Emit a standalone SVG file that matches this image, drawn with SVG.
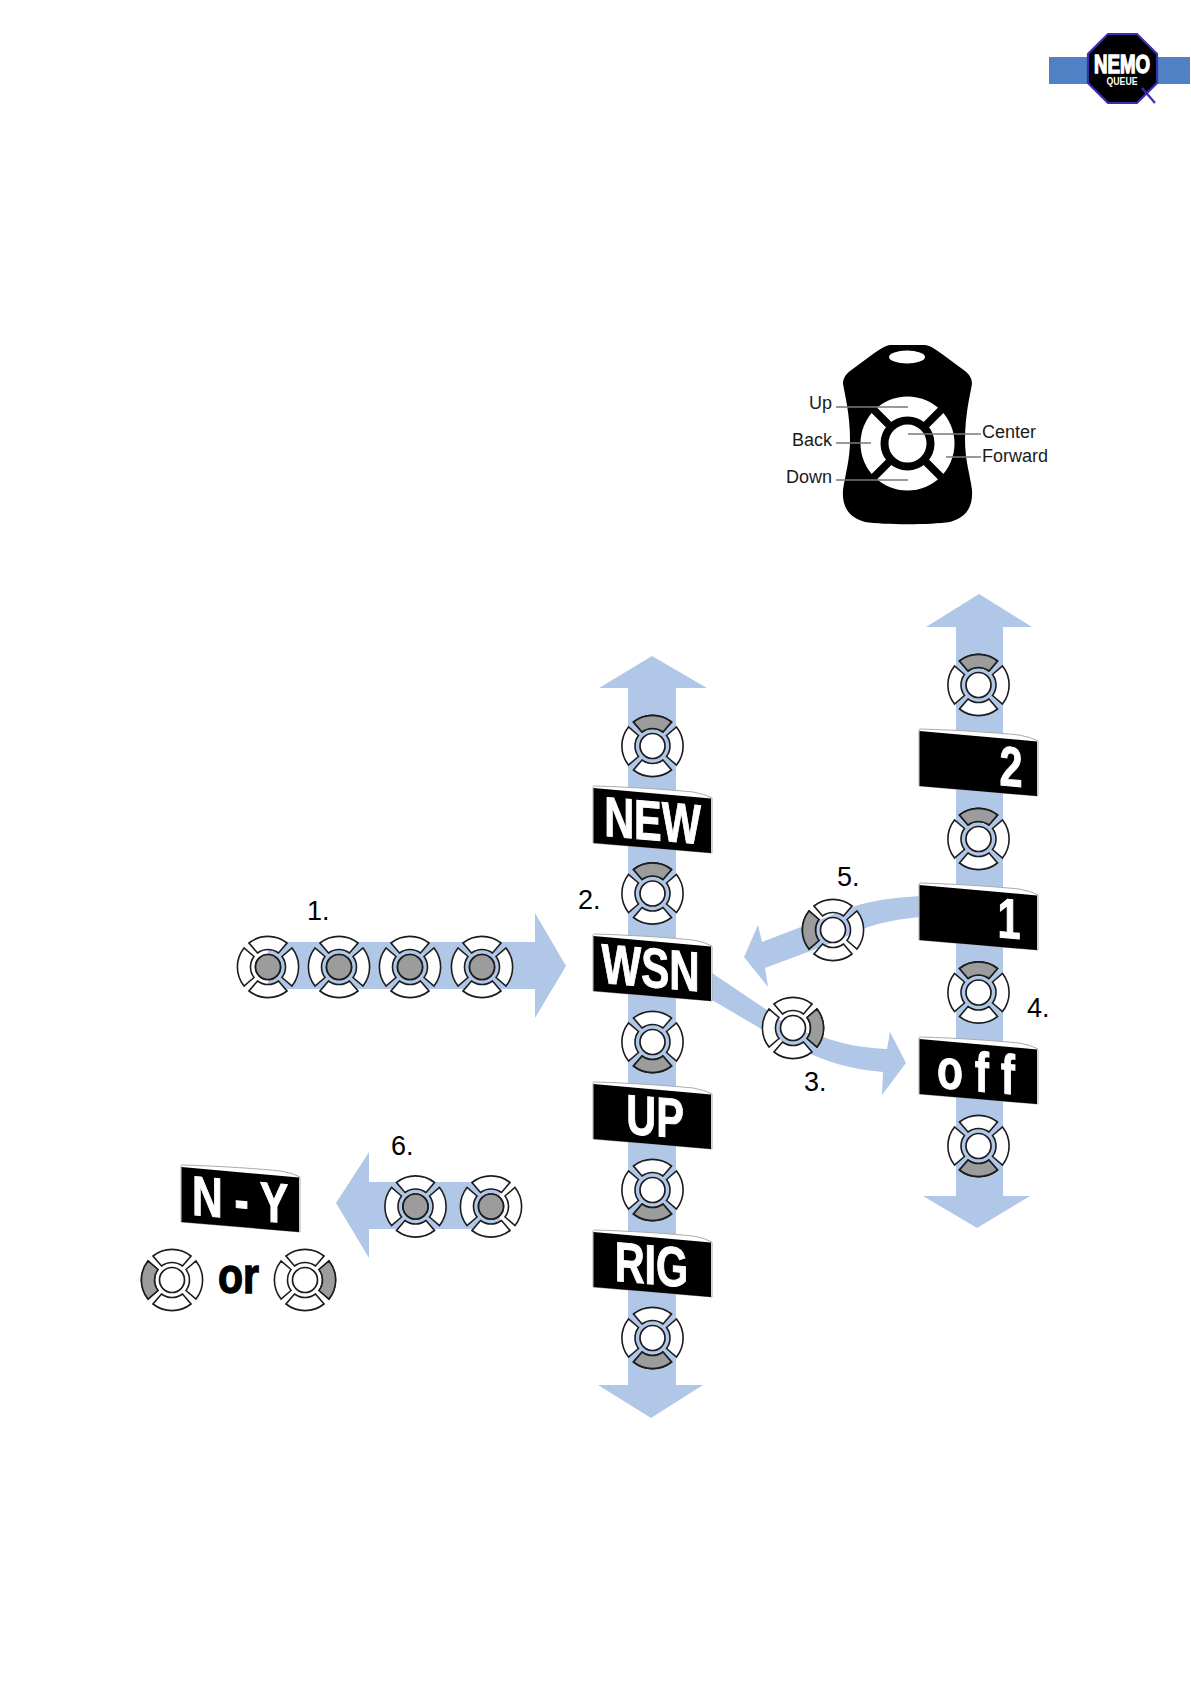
<svg xmlns="http://www.w3.org/2000/svg" width="1191" height="1684" viewBox="0 0 1191 1684">
<style>
.band{fill:#b1c7e8}
.seg{fill:#fff;stroke:#1c1c1c;stroke-width:1.6}
.gseg{fill:#9c9c9c;stroke:#1c1c1c;stroke-width:1.6}
.num{font-family:"Liberation Sans",Arial,sans-serif;font-size:27px;fill:#000}
.rl{font-family:"Liberation Sans",Arial,sans-serif;font-size:18px;fill:#1a1a1a}
.lead{stroke:#7a7a7a;stroke-width:1.4;fill:none}
.pl{font-family:"Liberation Sans",Arial,sans-serif;font-weight:700;font-size:56px;fill:#fff;stroke:#fff;stroke-width:1;text-anchor:middle}
</style>
<defs>
<path id="s" d="M-19,-24 A30.6,30.6 0 0 1 19,-24 L10.5,-14 A17.5,17.5 0 0 0 -10.5,-14 Z"/>
<g id="btn">
<use href="#s" class="seg"/>
<use href="#s" class="seg" transform="rotate(90)"/>
<use href="#s" class="seg" transform="rotate(180)"/>
<use href="#s" class="seg" transform="rotate(270)"/>
<circle r="12.5" fill="#fff" stroke="#1c1c1c" stroke-width="1.7"/>
</g>
<circle id="cg" r="12.5" fill="#9c9c9c" stroke="#1c1c1c" stroke-width="1.7"/>
<g id="plate">
<path d="M0,2 C0,1 0,0 1,0 C40,1 80,4 100,6 Q112,8 119,12 L119,67 L0,57 Z" fill="#fff" stroke="#aaa" stroke-width="1"/>
<path d="M0.5,2 L118,12.5 L118,67 L0.5,57 Z" fill="#000"/>
</g>
</defs>

<g id="logo">
<rect x="1049" y="57" width="141" height="27" fill="#4f81c4"/>
<polygon points="1108,34 1137,34 1157,54 1157,83 1137,103 1108,103 1088,83 1088,54" fill="#000" stroke="#3a2fa8" stroke-width="2.2"/>
<line x1="1142" y1="88" x2="1155" y2="103" stroke="#3a2fa8" stroke-width="2.2"/>
<text x="1122" y="73" text-anchor="middle" textLength="56" lengthAdjust="spacingAndGlyphs" font-family="'Liberation Sans',Arial,sans-serif" font-weight="700" font-size="25" fill="#fff" stroke="#fff" stroke-width="1.4">NEMO</text>
<text x="1122" y="85" text-anchor="middle" textLength="31" lengthAdjust="spacingAndGlyphs" font-family="'Liberation Sans',Arial,sans-serif" font-weight="700" font-size="10" fill="#fff">QUEUE</text>
</g>

<g id="remote">
<path d="M890,345 L925,345 C932,346 936,350 942,354 L965,371 C970,375 972,379 972,384 C970,395 965,415 965,440 C965,460 970,475 972,490 C973,505 968,517 950,522 C930,525 885,525 865,522 C847,517 842,505 843,490 C845,475 850,460 850,440 C850,415 845,395 843,384 C843,379 845,375 850,371 L873,354 C879,350 884,346 890,345 Z" fill="#000"/>
<ellipse cx="907" cy="357" rx="18" ry="6.5" fill="#fff"/>
<circle cx="907.5" cy="443.5" r="47" fill="#fff"/>
<path d="M874,410 L941,477 M941,410 L874,477" stroke="#000" stroke-width="7.5"/>
<circle cx="907.5" cy="443.5" r="23" fill="#fff" stroke="#000" stroke-width="8"/>
<path class="lead" d="M836,407 H908 M836,443 H871 M836,480 H908 M908,434 H981 M946,457 H981"/>
<text class="rl" x="832" y="409" text-anchor="end">Up</text>
<text class="rl" x="832" y="446" text-anchor="end">Back</text>
<text class="rl" x="832" y="483" text-anchor="end">Down</text>
<text class="rl" x="982" y="438">Center</text>
<text class="rl" x="982" y="462">Forward</text>
</g>

<g id="connectors">
<polygon class="band" points="268,942 535,942 535,913 566,966 535,1018 535,989 268,989"/>
<polygon class="band" points="628,688 599,688 652,656 707,688 676,688 676,1385 703,1385 651,1418 598,1385 628,1385"/>
<polygon class="band" points="956,627 926,627 979,594 1032,627 1003,627 1003,1196 1030,1196 977,1228 923,1196 956,1196"/>
<path class="band" d="M920,896 C885,898 862,903 850,908 L762,942 L758,925 L744,957 L768,987 L765,968 L840,940 C865,925 890,920 920,917 Z"/>
<path class="band" d="M712,973 L767,1010 C785,1025 800,1032 823,1037 C845,1045 865,1048 887,1049 L890,1032 L906,1063 L882,1095 L883,1072 C860,1070 835,1065 813,1055 C795,1050 780,1040 763,1030 L712,1000 Z"/>
<polygon class="band" points="500,1182 369,1182 369,1152 336,1203 369,1258 369,1229 500,1229"/>
</g>

<g id="n1-press"><use href="#btn" x="268" y="967"/><use href="#cg" x="268" y="967"/><use href="#btn" x="339" y="967"/><use href="#cg" x="339" y="967"/><use href="#btn" x="410" y="967"/><use href="#cg" x="410" y="967"/><use href="#btn" x="482" y="967"/><use href="#cg" x="482" y="967"/></g>

<g id="b-col1-up1" transform="translate(652.5,746)"><use href="#btn"/><use href="#s" class="gseg"/></g>
<g id="b-col1-up2" transform="translate(652.5,893.5)"><use href="#btn"/><use href="#s" class="gseg"/></g>
<g id="b-col1-dn1" transform="translate(652.5,1042)"><use href="#btn"/><use href="#s" class="gseg" transform="rotate(180)"/></g>
<g id="b-col1-dn2" transform="translate(652.5,1190)"><use href="#btn"/><use href="#s" class="gseg" transform="rotate(180)"/></g>
<g id="b-col1-dn3" transform="translate(652.5,1338)"><use href="#btn"/><use href="#s" class="gseg" transform="rotate(180)"/></g>

<g id="b-col2-up1" transform="translate(978.5,685)"><use href="#btn"/><use href="#s" class="gseg"/></g>
<g id="b-col2-up2" transform="translate(978.5,839)"><use href="#btn"/><use href="#s" class="gseg"/></g>
<g id="b-col2-up3" transform="translate(978.5,992.5)"><use href="#btn"/><use href="#s" class="gseg"/></g>
<g id="b-col2-dn1" transform="translate(978.5,1146)"><use href="#btn"/><use href="#s" class="gseg" transform="rotate(180)"/></g>

<g id="b-back" transform="translate(833,930)"><use href="#btn"/><use href="#s" class="gseg" transform="rotate(270)"/></g>
<g id="b-fwd" transform="translate(793,1028)"><use href="#btn"/><use href="#s" class="gseg" transform="rotate(90)"/></g>

<g id="n6-press"><use href="#btn" x="415.5" y="1206.5"/><use href="#cg" x="415.5" y="1206.5"/><use href="#btn" x="491" y="1206.5"/><use href="#cg" x="491" y="1206.5"/></g>
<g id="b-or-l" transform="translate(172,1280)"><use href="#btn"/><use href="#s" class="gseg" transform="rotate(270)"/></g>
<g id="b-or-r" transform="translate(305,1280)"><use href="#btn"/><use href="#s" class="gseg" transform="rotate(90)"/></g>

<g id="p-new" transform="translate(593,786)"><use href="#plate"/><text class="pl" transform="translate(59.5,54) skewY(5) scale(.74,1)">NEW</text></g>
<g id="p-wsn" transform="translate(593,934)"><use href="#plate"/><text class="pl" transform="translate(57.5,53) skewY(5) scale(.75,1)">WSN</text></g>
<g id="p-up" transform="translate(593,1082)"><use href="#plate"/><text class="pl" transform="translate(62,54) skewY(5) scale(.74,1)">UP</text></g>
<g id="p-rig" transform="translate(593,1230)"><use href="#plate"/><text class="pl" transform="translate(58.5,54) skewY(5) scale(.74,1)">RIG</text></g>
<g id="p-2" transform="translate(919,729)"><use href="#plate"/><text class="pl" transform="translate(92,57) skewY(5) scale(.74,1)">2</text></g>
<g id="p-1" transform="translate(919,883)"><use href="#plate"/><text class="pl" transform="translate(90,55) skewY(5) scale(.74,1)">1</text></g>
<g id="p-off" transform="translate(919,1037)"><use href="#plate"/><text class="pl" transform="translate(57,54) skewY(5) scale(.76,1)" xml:space="preserve">o f f</text></g>
<g id="p-ny" transform="translate(181,1165)"><use href="#plate"/><text class="pl" transform="translate(59,54) skewY(5) scale(.76,1)" xml:space="preserve">N - Y</text></g>

<text id="or" transform="translate(218,1293) scale(.82,1)" font-family="'Liberation Sans',Arial,sans-serif" font-weight="700" font-size="50" fill="#000" stroke="#000" stroke-width="1.4">or</text>

<g id="numbers">
<text class="num" x="307" y="920">1.</text>
<text class="num" x="578" y="909">2.</text>
<text class="num" x="804" y="1091">3.</text>
<text class="num" x="1027" y="1017">4.</text>
<text class="num" x="837" y="886">5.</text>
<text class="num" x="391" y="1155">6.</text>
</g>
</svg>
